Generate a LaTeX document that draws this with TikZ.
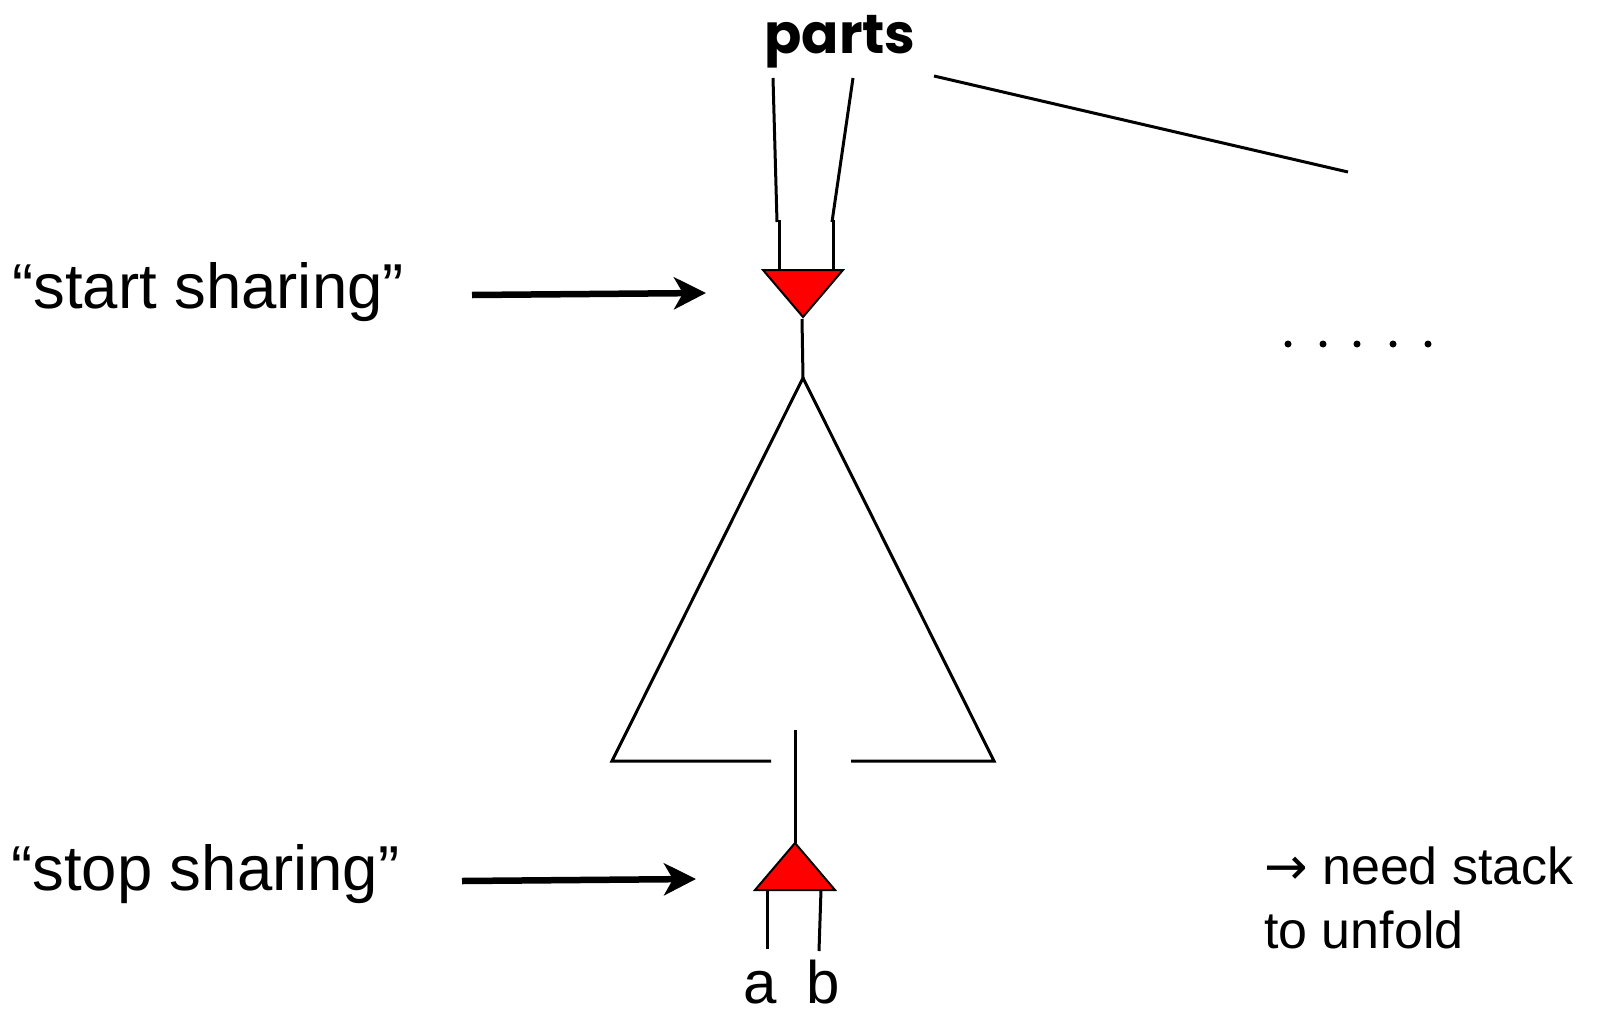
\documentclass[tikz,border=0pt]{standalone}
\usepackage{fontspec}
\setmainfont{Liberation Sans}
\newfontfamily\handfont{Poppins}
\newfontfamily\symfont{DejaVu Sans}
\usepackage{tikz}
\usetikzlibrary{arrows.meta}

\tikzset{
  wire/.style={line width=3pt},
  share/.style={fill=red, draw=black, line width=2pt, line join=miter},
  label/.style={inner sep=0pt, anchor=base west, font=\fontsize{63.5}{70}\selectfont},
  note/.style={inner sep=0pt, anchor=base west, font=\fontsize{52}{60}\selectfont},
  pin/.style={inner sep=0pt, anchor=base, font=\fontsize{60}{66}\selectfont},
}

\begin{document}
\begin{tikzpicture}[x=1pt, y=-1pt, >={Stealth[length=32pt,width=32pt,inset=9pt]}]
  \useasboundingbox (0,0) rectangle (1609,1012);
  % corners
  \coordinate (sl) at (763,270);
  \coordinate (sr) at (843,270);
  \coordinate (st) at (803,317);
  \coordinate (top) at (803,378);
  \coordinate (bl) at (612,761);
  \coordinate (br) at (994,761);
  \coordinate (tl) at (755,890);
  \coordinate (tr) at (835,890);
  \coordinate (tt) at (795,843);
  % texts
  \node[inner sep=0pt, anchor=base, font=\handfont\fontsize{55}{60}\selectfont\bfseries] (parts) at (840,53) {parts};
  \node[label] (startlbl) at (12,308) {“start sharing”};
  \node[label] (stoplbl) at (11,890) {“stop sharing”};
  \node[note] (need) at (1264,884) {{\symfont →} need stack};
  \node[note] (unfold) at (1264,948) {to unfold};
  \node[pin] (a) at (760,1003) {a};
  \node[pin] (b) at (823,1003) {b};
  % arrows
  \coordinate (s0) at (472,295);
  \coordinate (s1) at (706,293);
  \coordinate (p0) at (462,881);
  \coordinate (p1) at (696,879);
  \draw[->, line width=6.5pt] (s0) -- (s1);
  \draw[->, line width=6.5pt] (p0) -- (p1);
  % inputs into start
  \draw[wire] (773,78) -- (777,222);
  \draw[wire] (779,220) -- (779,270);
  \draw[wire] (853,78) -- (832,222);
  \draw[wire] (833,220) -- (833,270);
  \draw[wire] (934,76) -- (1348,172);
  \filldraw[share] (sl) -- (sr) -- (st) -- cycle;
  % body
  \draw[wire] (802,319) -- (top);
  \draw[wire, line join=miter] (771,761) -- (bl) -- (top) -- (br) -- (851,761);
  \draw[wire] (795,730) -- (tt);
  \filldraw[share] (tl) -- (tr) -- (tt) -- cycle;
  \draw[wire] (767,889) -- (767,949);
  \draw[wire] (821,890) -- (819,951);
  % dots
  \foreach \x in {1288,1323,1357,1393,1428}
    \fill (\x,344) circle (3.5pt);
\end{tikzpicture}
\end{document}
